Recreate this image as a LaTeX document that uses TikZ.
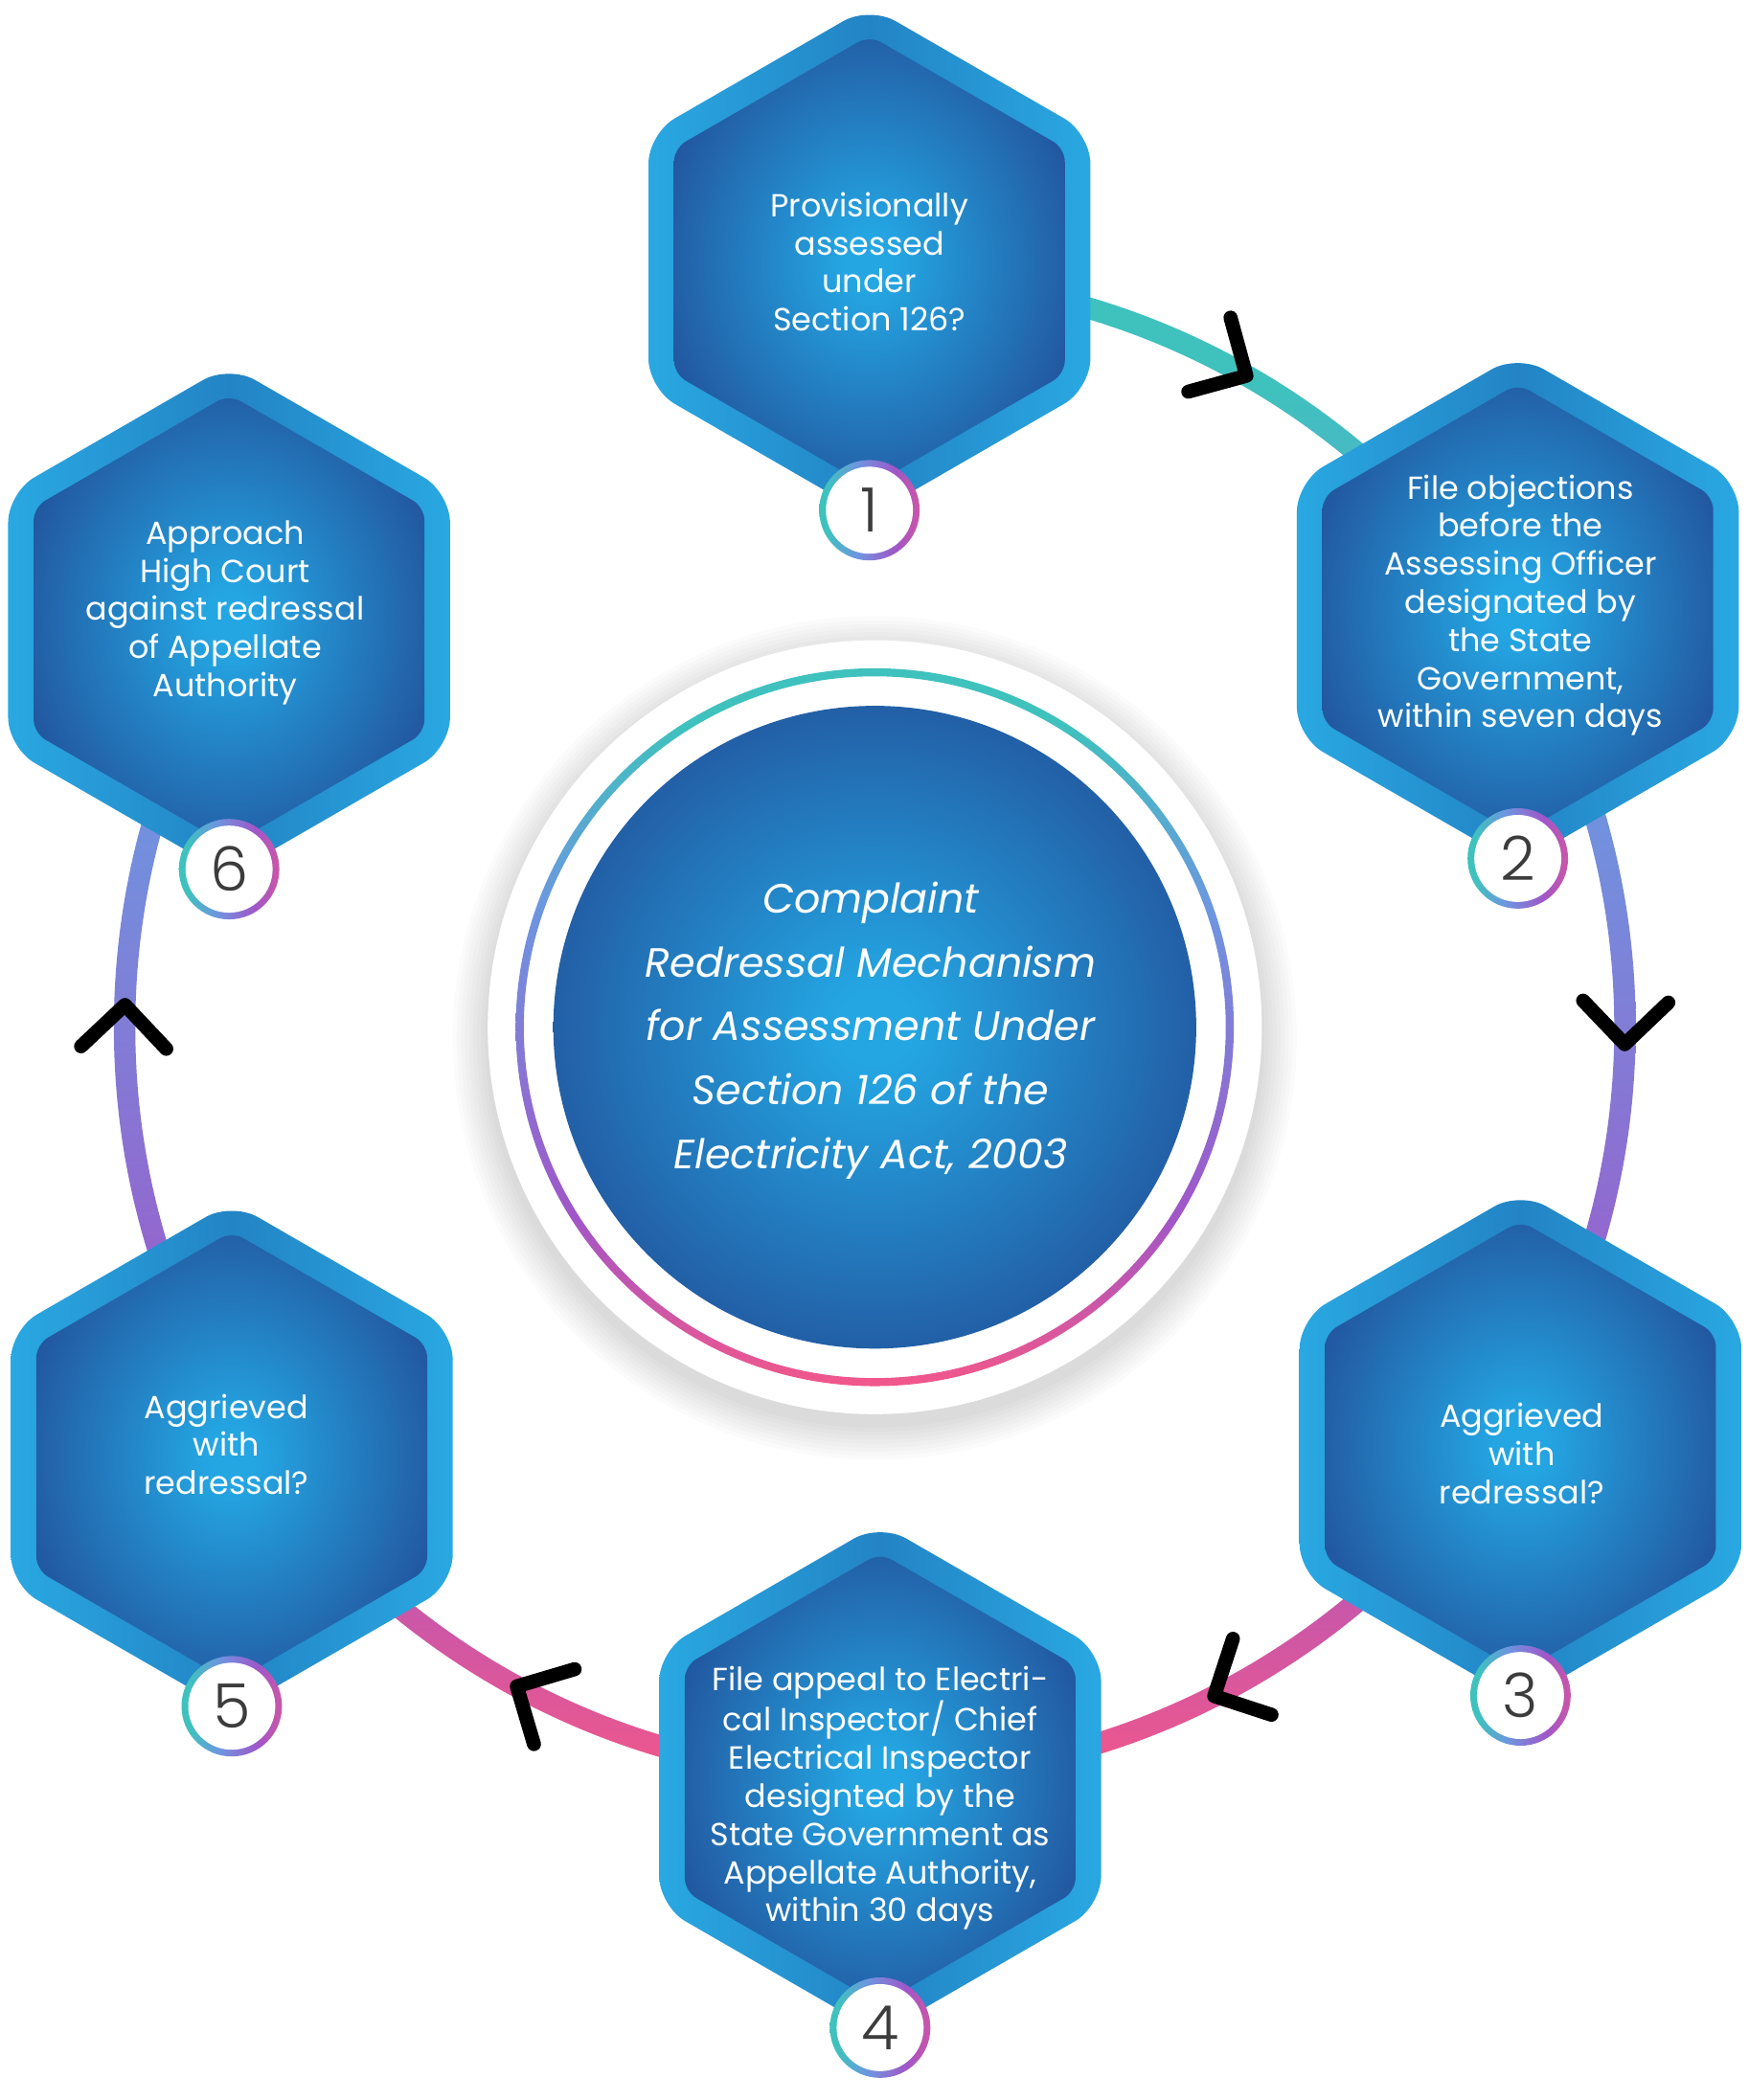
\documentclass[tikz,border=0pt]{standalone}
\usepackage{fontspec}
\setmainfont{Poppins}
\newfontfamily\numfont[UprightFont=*-Light]{Poppins}
\usepackage{xcolor}
\usepackage{tikz}
\usetikzlibrary{shapes,positioning}
\def\ringrad{560}
\def\hexsize{7.62cm}
\def\coresize{6.74cm}

\definecolor{hexrim}{HTML}{29A8E2}
\definecolor{hexrimdark}{HTML}{2384C5}
\definecolor{glow}{HTML}{24A6E3}
\definecolor{deep}{HTML}{224C96}
\definecolor{ringteal}{HTML}{3FC1BE}
\definecolor{ringblue}{HTML}{6E95E0}
\definecolor{ringpurple}{HTML}{A056C8}
\definecolor{ringpink}{HTML}{F2578A}
\definecolor{numgray}{HTML}{3C3C3C}

% shadings are stretched over the circle round the bounding box,
% so only 14.6bp to 85.4bp (axis) or 0bp to 35.4bp (radial) is seen
\pgfdeclareverticalshading{ringshade}{100bp}{color(0bp)=(ringpink); color(25bp)=(ringpink); color(37bp)=(ringpurple); color(58bp)=(ringblue); color(71bp)=(ringteal); color(100bp)=(ringteal)}
\pgfdeclarehorizontalshading{badgeshade}{100bp}{color(0bp)=(ringteal); color(29bp)=(ringteal); color(44bp)=(ringblue); color(63bp)=(ringpurple); color(85bp)=(ringpink); color(100bp)=(ringpink)}
\pgfdeclareradialshading{glowshade}{\pgfpoint{0bp}{0bp}}{color(0bp)=(glow); color(3bp)=(glow); color(31bp)=(deep); color(50bp)=(deep)}

\begin{document}
\begin{tikzpicture}[x=0.02cm, y=0.02cm]
    \tikzstyle{hex rim}=[regular polygon, regular polygon sides=6, shape border rotate=30, inner sep=0pt, outer sep=0pt, minimum size=\hexsize, rounded corners=0.45cm, left color=hexrim, right color=hexrim, middle color=hexrimdark]
    \tikzstyle{hex core}=[regular polygon, regular polygon sides=6, shape border rotate=30, inner sep=0pt, outer sep=0pt, minimum size=\coresize, rounded corners=0.2cm, shade, shading=glowshade]
    \tikzstyle{hex text}=[text=white, align=center, font=\fontsize{13.6}{16.2}\selectfont]
    \tikzstyle{badge ring}=[circle, inner sep=0pt, minimum size=1.5cm, shade, shading=badgeshade]
    \tikzstyle{badge}=[circle, inner sep=0pt, minimum size=1.3cm, fill=white, text=numgray, font=\numfont\fontsize{26}{26}\selectfont]
    \tikzstyle{chevron}=[draw=black, line width=0.21cm, line cap=round, line join=round]

    \fill[white] (0,0) rectangle (1305,1568);
    \useasboundingbox (0,0) rectangle (1305,1568);

    % Draw the ring that links the steps
    \coordinate (C) at (653,801);
    \begin{scope}
        \clip (C) -- ++(90:700) arc[start angle=90, end angle=-212, radius=700] -- cycle;
        \shade[shading=ringshade, even odd rule] (C) circle[radius=568] circle[radius=552];
    \end{scope}

    % Draw the arrow heads on the ring
    \foreach \a in {60.3,-1.3,-63.1,-118.5,178.3}
        \draw[chevron] (C) ++(\a:\ringrad) ++(\a+45:45) -- ++(\a+225:45) -- ++(\a+135:45);

    % Draw the disc in the middle, with a soft shadow
    \foreach \r in {291,294,...,315}
        \fill[black, opacity=0.017] ([yshift=-0.16cm]C) circle[radius=\r];
    \node[circle, inner sep=0pt, minimum size=11.56cm, fill=white] (disc) at (C) {};
    \shade[shading=ringshade, even odd rule] (C) circle[radius=268] circle[radius=262];
    \node[circle, inner sep=0pt, minimum size=9.6cm, shade, shading=glowshade] (core) at (C) {};
    \node[text=white, align=center, font=\itshape\fontsize{17.4}{27.1}\selectfont] (title) at (650,798.5)
        {Complaint\\Redressal Mechanism\\for Assessment Under\\Section 126 of the\\Electricity Act, 2003};

    % Draw the steps
    \foreach \name / \x / \y in {1/649/1373, 2/1133/1113, 3/1135/488, 4/657/240, 5/173/480, 6/171/1105}
    {
        \node[hex rim] (S-\name) at (\x,\y) {};
        \node[hex core] (K-\name) at (S-\name) {};
    }

    \node[hex text] (T-1) at (649,1372.5) {Provisionally\\assessed\\under\\Section 126?};
    \node[hex text] (T-2) at (1135,1116) {File objections\\before the\\Assessing Officer\\designated by\\the State\\Government,\\within seven days};
    \node[hex text] (T-3) at (1136,482.5) {Aggrieved\\with\\redressal?};
    \node[hex text] (T-4) at (657,225.5) {File appeal to Electri-\\cal Inspector/ Chief\\Electrical Inspector\\designted by the\\State Government as\\Appellate Authority,\\within 30 days};
    \node[hex text] (T-5) at (169,489.5) {Aggrieved\\with\\redressal?};
    \node[hex text] (T-6) at (168,1110.5) {Approach\\High Court\\against redressal\\of Appellate\\Authority};

    % Number the steps
    \foreach \name in {1,...,6}
    {
        \node[badge ring] (R-\name) at ([yshift=0.09cm]S-\name.south) {};
        \node[badge] (N-\name) at (R-\name) {\name};
    }
\end{tikzpicture}
\end{document}
